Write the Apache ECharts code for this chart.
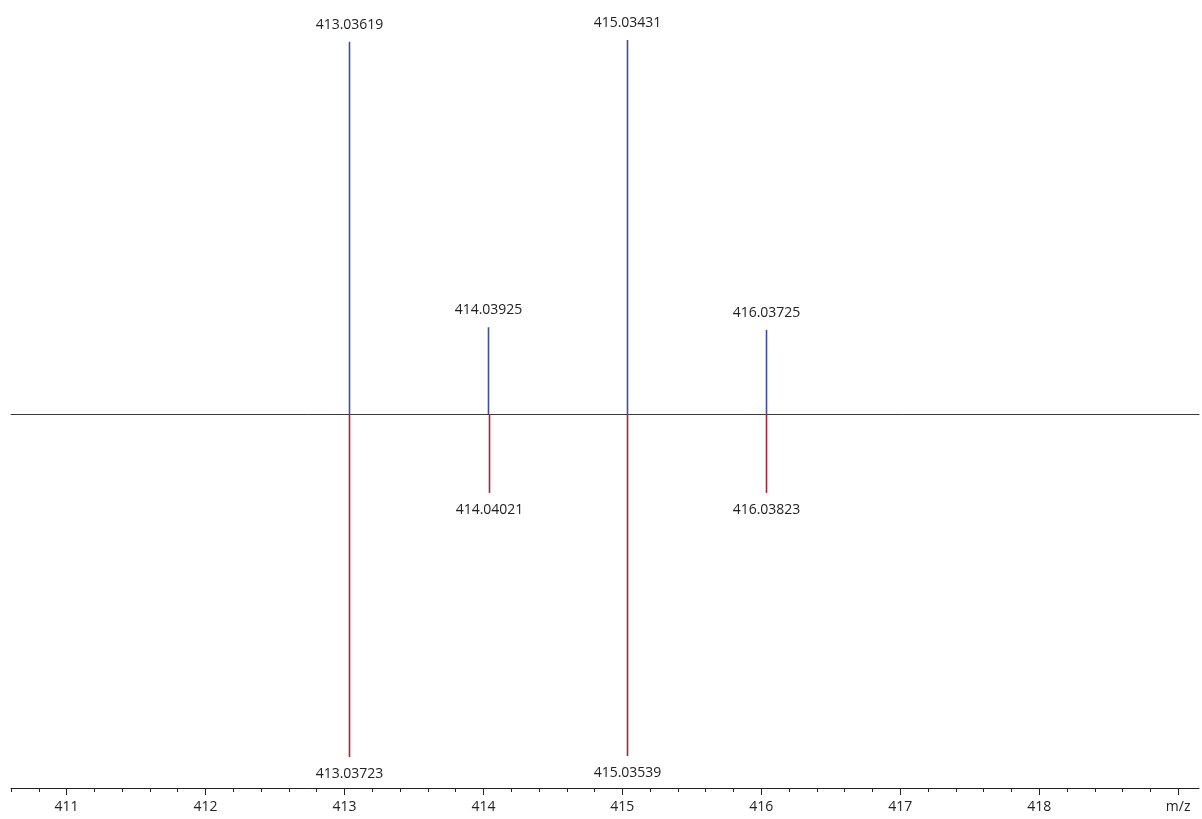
<!DOCTYPE html>
<html>
<head>
<meta charset="utf-8">
<script src="https://cdn.jsdelivr.net/npm/echarts@6/dist/echarts.min.js"></script>
<style>
  html, body { margin: 0; padding: 0; background: #fff; }
  #chart { width: 1202px; height: 819px; }
</style>
</head>
<body>
<div id="chart"></div>
<script>
// Upper (theoretical) and lower (measured) isotope peaks, relative intensity %
const upperMz = [413.03619, 414.03925, 415.03431, 416.03725];
const upperIntensity = [99.5, 23.2, 100, 22.5];
const lowerMz = [413.03723, 414.04021, 415.03539, 416.03823];
const lowerIntensity = [100, 23.0, 99.7, 23.0];

// m/z axis
const mzMin = 410.6;
const mzMax = 419.15;
const majorTicks = [411, 412, 413, 414, 415, 416, 417, 418, 419];
const minorTicks = [];
for (let i = 0; i <= 42; i++) {
  const v = Math.round((410.6 + i * 0.2) * 10) / 10;
  if (v <= mzMax && !majorTicks.includes(v)) minorTicks.push(v);
}

const FONT = 'Open Sans';
const FONT_SIZE = 14;
const TEXT = '#222';
const BLUE = '#3e4fa0';
const RED = '#a3253a';

function peakData(mz, vals) {
  return mz.map((m, i) => [m, vals[i]]);
}

// Stick peak: vertical line from the baseline with its m/z above/below the tip
function stickRenderer(color, below) {
  return function (params, api) {
    const mz = api.value(0);
    const base = api.coord([mz, 0]);
    const tip = api.coord([mz, api.value(1)]);
    const x = Math.floor(base[0]) + 0.5;
    return {
      type: 'group',
      children: [
        {
          type: 'line',
          shape: { x1: x, y1: base[1], x2: x, y2: tip[1] },
          style: { stroke: color, lineWidth: 1.6 }
        },
        {
          type: 'text',
          x: x,
          y: below ? tip[1] + 10 : tip[1] - 10,
          style: {
            text: mz.toFixed(5),
            fill: TEXT,
            font: FONT_SIZE + 'px "' + FONT + '"',
            align: 'center',
            verticalAlign: below ? 'top' : 'bottom'
          }
        }
      ]
    };
  };
}

const chart = echarts.init(document.getElementById('chart'));
chart.setOption({
  animation: false,
  grid: [
    { left: 11, right: 3, top: 40, height: 374 },
    { left: 11, right: 3, top: 414, height: 343 }
  ],
  xAxis: [
    {
      type: 'value', gridIndex: 0, min: mzMin, max: mzMax,
      axisLine: { show: true, onZero: false, lineStyle: { color: '#3a3a3a', width: 1 } },
      axisTick: { show: false }, axisLabel: { show: false }, splitLine: { show: false }
    },
    {
      type: 'value', gridIndex: 1, min: mzMin, max: mzMax, position: 'bottom', offset: 31,
      axisLine: { show: true, onZero: false, lineStyle: { color: '#222', width: 1 } },
      axisTick: { show: true, customValues: majorTicks, length: 7, lineStyle: { color: '#222' } },
      axisLabel: {
        show: true, customValues: majorTicks, margin: 12,
        fontFamily: FONT, fontSize: FONT_SIZE, color: TEXT,
        formatter: v => (v === 419 ? 'm/z' : String(v))
      },
      splitLine: { show: false }
    },
    {
      type: 'value', gridIndex: 1, min: mzMin, max: mzMax, position: 'bottom', offset: 31,
      axisLine: { show: false, onZero: false },
      axisTick: { show: true, customValues: minorTicks, length: 4, lineStyle: { color: '#222' } },
      axisLabel: { show: false }, splitLine: { show: false }
    }
  ],
  yAxis: [
    { type: 'value', gridIndex: 0, min: 0, max: 100, show: false },
    { type: 'value', gridIndex: 1, min: 0, max: 100, inverse: true, show: false }
  ],
  series: [
    {
      type: 'custom', xAxisIndex: 0, yAxisIndex: 0,
      data: peakData(upperMz, upperIntensity),
      renderItem: stickRenderer(BLUE, false)
    },
    {
      type: 'custom', xAxisIndex: 1, yAxisIndex: 1,
      data: peakData(lowerMz, lowerIntensity),
      renderItem: stickRenderer(RED, true)
    }
  ]
});
</script>
</body>
</html>
